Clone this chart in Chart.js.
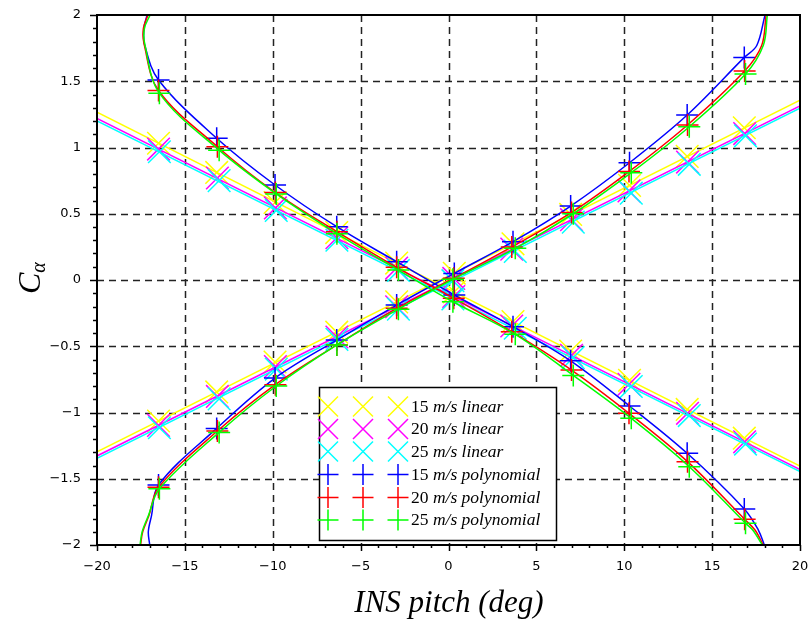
<!DOCTYPE html>
<html>
<head>
<meta charset="utf-8">
<script src="https://cdn.jsdelivr.net/npm/chart.js@4.4.1/dist/chart.umd.min.js"></script>
<style>
  html, body { margin: 0; padding: 0; background: #fff; }
  #wrap { width: 811px; height: 625px; }
</style>
</head>
<body>
<div id="wrap"><canvas id="chart" width="811" height="625"></canvas></div>
<script>
// pitch (deg) where each fit was evaluated, per wind speed
const pitch15 = [-16.5, -13.19, -9.87, -6.36, -2.95, 0.33, 3.67, 6.95, 10.3, 13.58, 16.83];
const pitch20 = [-16.5, -13.15, -9.85, -6.35, -2.95, 0.3, 3.6, 7.0, 10.27, 13.6, 16.85];
const pitch25 = [-16.45, -13.05, -9.8, -6.35, -2.85, 0.25, 3.8, 7.1, 10.4, 13.7, 16.9];

// linear fit, rising and falling branch (markers)
const linUp15 = [-1.064, -0.845, -0.619, -0.394, -0.165, 0.051, 0.273, 0.495, 0.714, 0.933, 1.149];
const linUp20 = [-1.097, -0.879, -0.654, -0.430, -0.202, 0.012, 0.233, 0.455, 0.672, 0.890, 1.105];
const linUp25 = [-1.115, -0.897, -0.672, -0.448, -0.220, -0.005, 0.216, 0.437, 0.655, 0.873, 1.088];
const linDown15 = [1.032, 0.812, 0.585, 0.358, 0.128, -0.089, -0.313, -0.536, -0.757, -0.977, -1.194];
const linDown20 = [0.988, 0.770, 0.544, 0.319, 0.090, -0.125, -0.347, -0.569, -0.787, -1.006, -1.221];
const linDown25 = [0.968, 0.750, 0.525, 0.300, 0.072, -0.143, -0.364, -0.586, -0.804, -1.023, -1.238];

// linear fit lines, value at pitch -20 and 20
const lineEndsX = [-20, 20];
const linUpEnds15 = [-1.296, 1.358];
const linUpEnds20 = [-1.328, 1.313];
const linUpEnds25 = [-1.346, 1.296];
const linDownEnds15 = [1.266, -1.404];
const linDownEnds20 = [1.22, -1.43];
const linDownEnds25 = [1.20, -1.446];

// polynomial fit (markers)
const polyUp15 = [-1.547, -1.12, -0.74, -0.453, -0.189, 0.05, 0.289, 0.558, 0.885, 1.245, 1.68];
const polyUp20 = [-1.565, -1.14, -0.79, -0.49, -0.214, 0.013, 0.25, 0.51, 0.818, 1.17, 1.577];
const polyUp25 = [-1.575, -1.15, -0.80, -0.49, -0.22, 0.005, 0.239, 0.50, 0.81, 1.157, 1.555];
const polyDown15 = [1.51, 1.07, 0.717, 0.402, 0.138, -0.113, -0.352, -0.61, -0.951, -1.308, -1.728];
const polyDown20 = [1.43, 1.006, 0.66, 0.365, 0.096, -0.138, -0.39, -0.68, -1.006, -1.371, -1.806];
const polyDown25 = [1.41, 0.98, 0.65, 0.35, 0.075, -0.164, -0.41, -0.72, -1.044, -1.409, -1.836];

// polynomial curve ends where they fold back near |C| = 2
const upHeadY = [-2.0, -1.9, -1.78];
const upHead15 = [-17.0, -17.08, -16.9];
const upHead20 = [-17.52, -17.4, -17.05];
const upHead25 = [-17.55, -17.43, -17.08];
const upTailY = [1.77, 2.0];
const upTail15 = [17.54, 18.01];
const upTail20 = [17.82, 18.07];
const upTail25 = [17.91, 18.14];
const downHeadY = [2.0, 1.9, 1.78];
const downHead15 = [-17.15, -17.33, -17.3];
const downHead20 = [-17.1, -17.36, -17.32];
const downHead25 = [-16.98, -17.3, -17.28];
const downTailY = [-1.887, -2.0];
const downTail15 = [17.63, 17.97];
const downTail20 = [17.44, 17.91];
const downTail25 = [17.31, 17.86];

const legendLabels = ['15 m/s linear', '20 m/s linear', '25 m/s linear',
  '15 m/s polynomial', '20 m/s polynomial', '25 m/s polynomial'];
const colors = ['#ffff00', '#ff00ff', '#00ffff', '#0000ff', '#ff0000', '#00ff00'];

const pts = (xs, ys) => xs.map((x, i) => ({ x: x, y: ys[i] }));

function curve(headX, headY, px, py, tailX, tailY) {
  return pts(headX, headY).concat(pts(px, py), pts(tailX, tailY));
}

const datasets = [];
function addLine(data, color, tension) {
  datasets.push({
    data: data, showLine: true, borderColor: color, borderWidth: 1.5,
    pointRadius: 0, tension: tension, fill: false
  });
}
function addMarkers(data, color, style, r) {
  datasets.push({
    data: data, showLine: false, pointStyle: style, pointRadius: r,
    pointBorderColor: color, pointBackgroundColor: color, pointBorderWidth: 1.5
  });
}

// linear fits
[[linUpEnds15, linDownEnds15, linUp15, linDown15, pitch15],
 [linUpEnds20, linDownEnds20, linUp20, linDown20, pitch20],
 [linUpEnds25, linDownEnds25, linUp25, linDown25, pitch25]].forEach((s, i) => {
  addLine(pts(lineEndsX, s[0]), colors[i], 0);
  addLine(pts(lineEndsX, s[1]), colors[i], 0);
  addMarkers(pts(s[4], s[2]), colors[i], 'crossRot', 16);
  addMarkers(pts(s[4], s[3]), colors[i], 'crossRot', 16);
});

// polynomial fits
[[upHead15, upTail15, downHead15, downTail15, polyUp15, polyDown15, pitch15],
 [upHead20, upTail20, downHead20, downTail20, polyUp20, polyDown20, pitch20],
 [upHead25, upTail25, downHead25, downTail25, polyUp25, polyDown25, pitch25]].forEach((s, i) => {
  const c = colors[i + 3];
  addLine(curve(s[0], upHeadY, s[6], s[4], s[1], upTailY), c, 0.35);
  addLine(curve(s[2], downHeadY, s[6], s[5], s[3], downTailY), c, 0.35);
  addMarkers(pts(s[6], s[4]), c, 'cross', 11);
  addMarkers(pts(s[6], s[5]), c, 'cross', 11);
});

// later datasets on top
datasets.forEach((d, i) => { d.order = 100 - i; });

const minus = v => String(v).replace('-', '\u2212');

const framePlugin = {
  id: 'frame',
  beforeDatasetsDraw(chart) {
    const { ctx, chartArea: a, scales: { x, y } } = chart;
    ctx.save();
    ctx.strokeStyle = '#222';
    ctx.lineWidth = 1.5;
    ctx.setLineDash([7, 5]);
    for (let v = -15; v <= 15; v += 5) {
      const px = Math.round(x.getPixelForValue(v)) + 0.5;
      ctx.beginPath(); ctx.moveTo(px, a.top); ctx.lineTo(px, a.bottom); ctx.stroke();
    }
    for (let v = -1.5; v <= 1.5; v += 0.5) {
      const py = Math.round(y.getPixelForValue(v)) + 0.5;
      ctx.beginPath(); ctx.moveTo(a.left, py); ctx.lineTo(a.right, py); ctx.stroke();
    }
    ctx.restore();
  },
  afterDatasetsDraw(chart) {
    const { ctx, chartArea: a, scales: { x, y } } = chart;
    ctx.save();
    ctx.strokeStyle = '#000';
    ctx.setLineDash([]);
    // ticks
    ctx.lineWidth = 1.5;
    for (let k = -20; k <= 20; k++) {
      const px = Math.round(x.getPixelForValue(k)) + 0.5;
      const len = k % 5 === 0 ? 6 : 3;
      ctx.beginPath(); ctx.moveTo(px, a.bottom); ctx.lineTo(px, a.bottom + len); ctx.stroke();
    }
    for (let k = -20; k <= 20; k++) {
      const py = Math.round(y.getPixelForValue(k / 10)) + 0.5;
      const len = k % 5 === 0 ? 7 : 4;
      ctx.beginPath(); ctx.moveTo(a.left, py); ctx.lineTo(a.left - len, py); ctx.stroke();
    }
    // frame
    ctx.lineWidth = 2;
    ctx.strokeRect(a.left, a.top, a.right - a.left, a.bottom - a.top);

    // legend
    const bx = 319, by = 387, bw = 237, bh = 153;
    ctx.fillStyle = '#fff';
    ctx.fillRect(bx, by, bw, bh);
    ctx.lineWidth = 1.5;
    ctx.strokeRect(bx + 0.5, by + 0.5, bw, bh);
    const rows = [406.5, 429, 451.5, 474.5, 497.5, 520];
    const cols = [328, 363, 398];
    legendLabels.forEach((lab, i) => {
      const ry = rows[i];
      ctx.strokeStyle = colors[i];
      ctx.lineWidth = 1.5;
      cols.forEach(cx => {
        ctx.beginPath();
        if (i < 3) {
          ctx.moveTo(cx - 10, ry - 10); ctx.lineTo(cx + 10, ry + 10);
          ctx.moveTo(cx + 10, ry - 10); ctx.lineTo(cx - 10, ry + 10);
        } else {
          ctx.moveTo(cx - 10.5, ry); ctx.lineTo(cx + 10.5, ry);
          ctx.moveTo(cx, ry - 10.5); ctx.lineTo(cx, ry + 10.5);
        }
        ctx.stroke();
      });
      const num = lab.slice(0, 3);
      const rest = lab.slice(3);
      ctx.fillStyle = '#000';
      ctx.textBaseline = 'alphabetic';
      ctx.textAlign = 'left';
      ctx.font = '17.5px "Liberation Serif"';
      ctx.fillText(num, 411, ry + 5);
      const w = ctx.measureText(num).width;
      ctx.font = 'italic 17.5px "Liberation Serif"';
      ctx.fillText(rest, 411 + w, ry + 5);
    });

    // axis titles
    ctx.fillStyle = '#000';
    ctx.font = 'italic 31px "Liberation Serif"';
    ctx.textAlign = 'center';
    ctx.textBaseline = 'alphabetic';
    ctx.fillText('INS pitch (deg)', 449, 612);

    ctx.translate(40, 277);
    ctx.rotate(-Math.PI / 2);
    ctx.textAlign = 'left';
    ctx.font = 'italic 32px "Liberation Serif"';
    ctx.fillText('C', -17, 0);
    const cw = ctx.measureText('C').width;
    ctx.font = 'italic 20px "Liberation Serif"';
    ctx.fillText('\u03b1', -17 + cw, 5);
    ctx.restore();
  }
};

const tickFont = { family: '"DejaVu Sans", sans-serif', size: 13 };

new Chart(document.getElementById('chart'), {
  type: 'scatter',
  data: { datasets: datasets },
  options: {
    responsive: false,
    animation: false,
    devicePixelRatio: 1,
    layout: { autoPadding: false, padding: { top: 15, right: 11, left: 0, bottom: 0 } },
    plugins: { legend: { display: false }, tooltip: { enabled: false } },
    scales: {
      x: {
        type: 'linear', min: -20, max: 20,
        grid: { display: false, drawTicks: false },
        border: { display: false },
        ticks: { stepSize: 5, color: '#000', font: tickFont, padding: 14,
          maxRotation: 0, autoSkip: false, callback: v => minus(v) },
        afterFit: s => { s.height = 80; s.paddingLeft = 0; s.paddingRight = 0; }
      },
      y: {
        type: 'linear', min: -2, max: 2,
        grid: { display: false, drawTicks: false },
        border: { display: false },
        ticks: { stepSize: 0.5, color: '#000', font: tickFont, padding: 16,
          autoSkip: false, callback: v => minus(v) },
        afterFit: s => { s.width = 97; s.paddingTop = 0; s.paddingBottom = 0; }
      }
    }
  },
  plugins: [framePlugin]
});
</script>
</body>
</html>
